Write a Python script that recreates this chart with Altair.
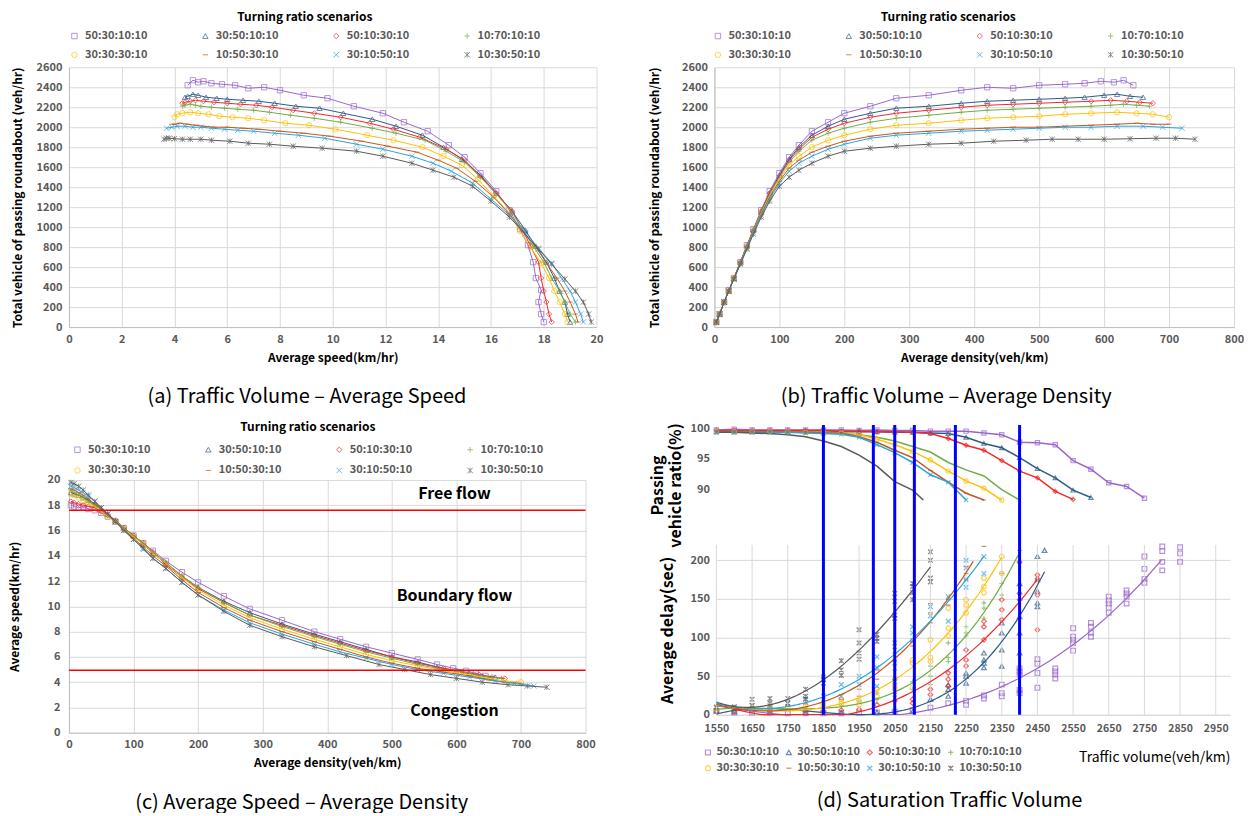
import altair as alt
import pandas as pd

FONT = "Noto Sans CJK KR"

SCEN = ["50:30:10:10", "30:50:10:10", "50:10:30:10", "10:70:10:10",
        "30:30:30:10", "10:50:30:10", "30:10:50:10", "10:30:50:10"]
COLORS = ["#9966CC", "#2E5A88", "#F02828", "#70AD47",
          "#FFC000", "#C8561A", "#2AA3DE", "#595959"]
SHAPES = ["square", "triangle-up", "diamond", "M-1,0L1,0M0,-1L0,1",
          "circle", "M-1,0L1,0", "M-1,-1L1,1M-1,1L1,-1",
          "M-1,-1L1,1M-1,1L1,-1M0,-1L0,1"]

# ---------- panels (a)(b)(c): density, speed, volume per scenario ----------
k1 = [3, 8, 15, 22, 30, 40, 50, 60, 72, 85, 100, 115, 130, 150, 175, 200, 240, 280, 330, 380, 420, 460, 500, 540, 570, 595, 615, 630, 645]
v1 = [18.0, 17.9, 17.8, 17.9, 17.7, 17.6, 17.4, 17.1, 16.7, 16.2, 15.6, 15.0, 14.4, 13.6, 12.7, 11.9, 10.8, 9.8, 8.9, 8.0, 7.4, 6.8, 6.3, 5.8, 5.4, 5.1, 4.9, 4.7, 4.5]
q1 = [50, 130, 250, 370, 490, 650, 820, 980, 1170, 1360, 1540, 1700, 1820, 1960, 2050, 2140, 2210, 2290, 2320, 2370, 2400, 2390, 2420, 2430, 2440, 2460, 2450, 2470, 2420]

k2 = [3, 8, 15, 22, 30, 40, 50, 60, 72, 85, 100, 115, 130, 150, 175, 200, 240, 280, 330, 380, 420, 460, 500, 540, 570, 600, 620, 640, 660]
v2 = [19.0, 18.9, 18.8, 18.6, 18.4, 18.1, 17.7, 17.3, 16.8, 16.2, 15.6, 14.9, 14.2, 13.4, 12.4, 11.5, 10.4, 9.5, 8.6, 7.8, 7.2, 6.6, 6.0, 5.6, 5.2, 4.9, 4.7, 4.5, 4.4]
q2 = [50, 130, 250, 360, 490, 650, 810, 970, 1160, 1340, 1520, 1680, 1800, 1920, 2010, 2080, 2140, 2190, 2210, 2240, 2260, 2270, 2280, 2290, 2300, 2320, 2330, 2310, 2300]

k3 = [3, 8, 15, 22, 30, 40, 50, 60, 72, 85, 100, 115, 130, 150, 175, 200, 240, 280, 330, 380, 420, 460, 500, 540, 580, 610, 635, 655, 675]
v3 = [18.3, 18.2, 18.1, 18.0, 17.9, 17.8, 17.5, 17.2, 16.8, 16.2, 15.6, 15.0, 14.3, 13.3, 12.3, 11.4, 10.3, 9.3, 8.5, 7.7, 7.1, 6.5, 6.0, 5.5, 5.1, 4.8, 4.6, 4.4, 4.3]
q3 = [50, 130, 250, 360, 490, 650, 810, 970, 1160, 1340, 1510, 1670, 1780, 1900, 1980, 2040, 2100, 2140, 2170, 2200, 2220, 2230, 2240, 2250, 2260, 2270, 2260, 2250, 2240]

k4 = [3, 8, 15, 22, 30, 40, 50, 60, 72, 85, 100, 115, 130, 150, 175, 200, 240, 280, 330, 380, 420, 460, 500, 540, 580, 610, 630, 650, 670]
v4 = [19.2, 19.0, 18.8, 18.6, 18.3, 18.0, 17.6, 17.2, 16.8, 16.2, 15.6, 15.0, 14.3, 13.5, 12.4, 11.5, 10.3, 9.3, 8.4, 7.6, 7.0, 6.4, 5.9, 5.4, 5.0, 4.8, 4.6, 4.4, 4.3]
q4 = [50, 130, 250, 360, 490, 650, 810, 970, 1150, 1330, 1500, 1650, 1760, 1870, 1940, 1990, 2050, 2090, 2120, 2150, 2170, 2180, 2190, 2200, 2210, 2220, 2230, 2220, 2210]

k5 = [3, 8, 15, 22, 30, 40, 50, 60, 72, 85, 100, 115, 130, 150, 175, 200, 240, 280, 330, 380, 420, 460, 500, 540, 580, 620, 650, 675, 700]
v5 = [18.9, 18.8, 18.6, 18.4, 18.2, 17.9, 17.5, 17.1, 16.7, 16.1, 15.5, 14.9, 14.2, 13.4, 12.3, 11.3, 10.1, 9.1, 8.2, 7.4, 6.8, 6.2, 5.7, 5.3, 4.9, 4.6, 4.3, 4.1, 4.0]
q5 = [50, 130, 250, 360, 490, 640, 800, 960, 1140, 1310, 1480, 1620, 1710, 1800, 1870, 1920, 1980, 2020, 2040, 2070, 2090, 2100, 2110, 2130, 2140, 2150, 2140, 2130, 2100]

k6 = [3, 8, 15, 22, 30, 40, 50, 60, 72, 85, 100, 115, 130, 150, 175, 200, 240, 280, 330, 380, 420, 460, 500, 540, 580, 620, 650, 675, 700]
v6 = [19.3, 19.2, 19.0, 18.8, 18.5, 18.1, 17.7, 17.2, 16.7, 16.1, 15.4, 14.7, 14.0, 13.2, 12.1, 11.1, 9.9, 8.9, 8.0, 7.2, 6.6, 6.0, 5.5, 5.1, 4.8, 4.5, 4.2, 4.0, 3.9]
q6 = [50, 130, 250, 360, 490, 640, 800, 960, 1130, 1300, 1460, 1590, 1670, 1750, 1810, 1860, 1910, 1940, 1960, 1980, 1990, 2000, 2000, 2010, 2020, 2030, 2040, 2030, 2030]

k7 = [3, 8, 15, 22, 30, 40, 50, 60, 72, 85, 100, 115, 130, 150, 175, 200, 240, 280, 330, 380, 420, 460, 500, 540, 580, 620, 660, 690, 720]
v7 = [19.5, 19.4, 19.2, 19.0, 18.7, 18.3, 17.8, 17.3, 16.7, 16.0, 15.3, 14.5, 13.8, 13.0, 11.9, 10.9, 9.7, 8.7, 7.8, 7.0, 6.4, 5.9, 5.4, 5.0, 4.7, 4.4, 4.1, 3.9, 3.7]
q7 = [50, 130, 250, 360, 480, 640, 790, 950, 1120, 1280, 1440, 1560, 1640, 1710, 1780, 1830, 1890, 1920, 1940, 1960, 1970, 1980, 1990, 2000, 2000, 2010, 2010, 2000, 1990]

k8 = [3, 8, 15, 22, 30, 40, 50, 60, 72, 85, 100, 115, 130, 150, 175, 200, 240, 280, 330, 380, 430, 480, 520, 560, 600, 640, 680, 710, 740]
v8 = [19.8, 19.7, 19.5, 19.2, 18.8, 18.3, 17.8, 17.3, 16.7, 16.0, 15.3, 14.6, 13.8, 13.0, 11.9, 10.9, 9.6, 8.5, 7.6, 6.8, 6.1, 5.4, 5.0, 4.6, 4.3, 4.0, 3.8, 3.7, 3.6]
q8 = [50, 130, 250, 360, 480, 630, 780, 930, 1100, 1260, 1410, 1500, 1570, 1640, 1710, 1760, 1790, 1810, 1830, 1840, 1860, 1870, 1880, 1880, 1880, 1885, 1890, 1890, 1880]

# ---------- panel (d) ----------
VOL = [1550, 1600, 1650, 1700, 1750, 1800, 1850, 1900, 1950, 2000, 2050, 2100, 2150,
       2200, 2250, 2300, 2350, 2400, 2450, 2500, 2550, 2600, 2650, 2700, 2750, 2800, 2850]
XTICKS_D = [1550, 1650, 1750, 1850, 1950, 2050, 2150, 2250, 2350, 2450, 2550, 2650, 2750, 2850, 2950]
SAT_VOL = [1850, 1990, 2050, 2105, 2220, 2400]

r1 = [99.7, 99.8, 99.7, 99.7, 99.7, 99.7, 99.7, 99.7, 99.6, 99.7, 99.6, 99.6, 99.5, 99.5, 99.5, 99.2, 98.9, 97.7, 97.6, 97.3, 94.7, 93.3, 91.1, 90.5, 88.6]
r2 = [99.4, 99.4, 99.4, 99.4, 99.4, 99.4, 99.4, 99.4, 99.4, 99.4, 99.3, 99.3, 99.2, 99.1, 98.5, 97.5, 96.8, 95.2, 93.4, 91.9, 89.9, 88.7]
r3 = [99.6, 99.6, 99.6, 99.6, 99.6, 99.6, 99.6, 99.5, 99.5, 99.4, 99.4, 99.3, 99.1, 98.3, 97.2, 96.4, 94.7, 93.0, 91.9, 89.7, 88.4]
r4 = [99.4, 99.4, 99.4, 99.4, 99.4, 99.3, 99.3, 99.2, 98.9, 98.5, 97.9, 97.0, 96.1, 94.4, 93.2, 92.2, 90.0, 88.3]
r5 = [99.4, 99.4, 99.4, 99.4, 99.4, 99.3, 99.3, 99.2, 98.9, 98.2, 97.3, 96.2, 94.8, 93.0, 91.4, 90.2, 88.3]
r6 = [99.5, 99.5, 99.4, 99.4, 99.4, 99.3, 99.2, 99.2, 98.6, 97.7, 96.4, 95.2, 93.1, 91.2, 89.4, 88.3]
r7 = [99.3, 99.3, 99.3, 99.3, 99.3, 99.2, 99.1, 99.0, 98.5, 97.3, 96.0, 94.4, 92.4, 91.2, 88.3]
gray_top_vol = [1550, 1600, 1650, 1700, 1750, 1800, 1850, 1900, 1950, 2000, 2050, 2100, 2130]
r8 = [99.3, 99.3, 99.2, 99.1, 98.9, 98.6, 97.9, 97.0, 95.6, 93.8, 91.3, 89.9, 88.3]
MARKED = ["50:30:10:10", "30:50:10:10", "50:10:30:10", "30:30:30:10", "10:50:30:10", "30:10:50:10"]

dv1 = [1550, 1600, 1650, 1700, 1750, 1800, 1850, 1900, 1950, 2000, 2050, 2100, 2150, 2200, 2250, 2250, 2300, 2300, 2350, 2350, 2350,
       2400, 2400, 2400, 2400, 2400, 2450, 2450, 2450, 2450, 2500, 2500, 2500, 2500, 2550, 2550, 2550, 2550, 2550,
       2600, 2600, 2600, 2600, 2650, 2650, 2650, 2650, 2650, 2700, 2700, 2700, 2700, 2750, 2750, 2750, 2750,
       2800, 2800, 2800, 2800, 2850, 2850, 2850]
dd1 = [5, 3, 3, 3, 2, 2, 2, 2, 3, 3, 4, 6, 9, 15, 18, 13, 25, 21, 39, 28, 24,
       60, 56, 52, 32, 28, 72, 66, 54, 35, 60, 56, 52, 47, 112, 101, 97, 93, 83,
       119, 114, 106, 101, 153, 148, 144, 139, 132, 161, 157, 153, 144, 205, 189, 176, 171,
       218, 212, 198, 187, 217, 209, 198]
dv2 = [1550, 1600, 1700, 1800, 1900, 2000, 2100, 2150, 2200, 2200, 2200, 2250, 2250, 2250, 2300, 2300, 2300, 2300,
       2350, 2350, 2350, 2350, 2400, 2400, 2400, 2400, 2450, 2450, 2450, 2450, 2450, 2470]
dd2 = [5, 4, 3, 3, 3, 3, 4, 20, 24, 33, 39, 41, 50, 54, 67, 71, 80, 61,
       84, 106, 119, 63, 127, 170, 106, 80, 140, 145, 160, 175, 205, 213]
dv3 = [1550, 1600, 1650, 1700, 1800, 1850, 1900, 1950, 2000, 2050, 2100, 2100, 2150, 2150, 2200, 2200, 2200,
       2250, 2250, 2250, 2300, 2300, 2300, 2350, 2350, 2350, 2400, 2400, 2400, 2450, 2450, 2450, 2450]
dd3 = [5, 5, 5, 5, 5, 5, 6, 7, 13, 18, 20, 15, 26, 33, 46, 37, 54,
       71, 63, 84, 97, 114, 121, 136, 123, 149, 149, 157, 198, 181, 176, 155, 110]
dv4 = [1550, 1600, 1700, 1800, 1850, 1900, 1950, 2000, 2000, 2050, 2050, 2100, 2100, 2150, 2150, 2150,
       2200, 2200, 2200, 2250, 2250, 2250, 2300, 2300, 2300, 2350, 2350, 2350, 2400, 2400]
dd4 = [7, 7, 8, 9, 10, 12, 18, 28, 20, 28, 24, 33, 43, 39, 50, 63,
       69, 74, 93, 106, 102, 114, 125, 138, 145, 155, 170, 183, 213, 196]
dv5 = [1550, 1600, 1650, 1700, 1750, 1800, 1850, 1850, 1900, 1900, 1950, 1950, 2000, 2000, 2050, 2050, 2050,
       2100, 2100, 2100, 2150, 2150, 2150, 2200, 2200, 2200, 2250, 2250, 2250, 2300, 2300, 2300, 2350, 2350]
dd5 = [7, 8, 9, 10, 10, 12, 11, 15, 15, 20, 18, 13, 24, 33, 37, 46, 33,
       35, 67, 71, 69, 74, 97, 102, 112, 138, 142, 132, 149, 158, 166, 177, 205, 183]
dv6 = [1550, 1600, 1650, 1700, 1750, 1800, 1850, 1900, 1950, 1950, 2000, 2000, 2050, 2050, 2050, 2050,
       2100, 2100, 2150, 2150, 2150, 2200, 2200, 2250, 2250, 2250, 2300]
dd6 = [8, 8, 10, 10, 12, 14, 18, 20, 33, 24, 58, 46, 86, 80, 71, 58,
       89, 95, 144, 132, 119, 142, 149, 175, 183, 192, 218]
dv7 = [1550, 1600, 1650, 1700, 1750, 1800, 1850, 1900, 1900, 1950, 1950, 2000, 2000, 2000, 2050, 2050, 2050,
       2100, 2100, 2100, 2150, 2150, 2200, 2200, 2250, 2250, 2250, 2250, 2300, 2300]
dd7 = [9, 10, 12, 12, 15, 21, 24, 39, 24, 50, 39, 75, 61, 37, 93, 67, 43,
       114, 106, 96, 140, 128, 153, 121, 200, 190, 175, 165, 205, 183]
dv8 = [1550, 1600, 1650, 1650, 1700, 1700, 1750, 1750, 1800, 1800, 1800, 1850, 1850, 1850, 1900, 1900, 1900,
       1950, 1950, 1950, 1950, 2000, 2000, 2000, 2050, 2050, 2050, 2050, 2100, 2100, 2100, 2100, 2150, 2150, 2150, 2150]
dd8 = [10, 10, 20, 12, 21, 15, 21, 15, 33, 24, 20, 46, 41, 49, 70, 58, 51,
       110, 93, 80, 72, 104, 99, 95, 157, 147, 129, 125, 170, 166, 158, 149, 211, 200, 177, 172]

# ---------- tables ----------
abc_rows = []
for s, ks, vs, qs in zip(SCEN, [k1, k2, k3, k4, k5, k6, k7, k8],
                         [v1, v2, v3, v4, v5, v6, v7, v8],
                         [q1, q2, q3, q4, q5, q6, q7, q8]):
    for k, v, q in zip(ks, vs, qs):
        abc_rows.append({"scenario": s, "density": k, "speed": v, "volume": q})
df_abc = pd.DataFrame(abc_rows)

top_rows = []
for s, rs in zip(SCEN[:7], [r1, r2, r3, r4, r5, r6, r7]):
    for x, r in zip(VOL, rs):
        top_rows.append({"scenario": s, "volume": x, "ratio": r})
for x, r in zip(gray_top_vol, r8):
    top_rows.append({"scenario": SCEN[7], "volume": x, "ratio": r})
df_top = pd.DataFrame(top_rows)
df_top_pts = df_top[df_top["scenario"].isin(MARKED)]

bot_rows = []
for s, xs, ds in zip(SCEN, [dv1, dv2, dv3, dv4, dv5, dv6, dv7, dv8],
                     [dd1, dd2, dd3, dd4, dd5, dd6, dd7, dd8]):
    for x, d in zip(xs, ds):
        bot_rows.append({"scenario": s, "volume": x, "delay": d})
df_bot = pd.DataFrame(bot_rows)

color_scale = alt.Scale(domain=SCEN, range=COLORS)
shape_scale = alt.Scale(domain=SCEN, range=SHAPES)

LABEL_GRAY = "#595959"


def top_legend(lx, ly, tpad, rpad):
    return alt.Legend(title="Turning ratio scenarios", orient="none", legendX=lx, legendY=ly,
                      direction="horizontal", columns=4, columnPadding=52, rowPadding=rpad,
                      symbolSize=30, symbolStrokeWidth=1, labelOffset=5, labelFont=FONT,
                      labelFontSize=11, labelFontWeight="bold", labelColor=LABEL_GRAY,
                      labelLimit=200, titleFont=FONT, titleFontSize=12, titleFontWeight="bold",
                      titleColor="#000000", titleAnchor="middle", titlePadding=tpad,
                      titleOrient="top")


def caption_title(text, offset, dx=0):
    return alt.TitleParams(text, orient="bottom", anchor="middle", frame="bounds", font=FONT,
                           fontSize=20, fontWeight="normal", color="#000000",
                           offset=offset, dx=dx)


def abc_panel(xf, yf, xdom, xvals, ydom, yvals, xtitle, ytitle, caption, w, h,
              lx, ly, ytp, ylp, ltp=6, lrp=7, extra=None):
    X = alt.X(f"{xf}:Q", scale=alt.Scale(domain=xdom, nice=False, zero=False),
              axis=alt.Axis(values=xvals, title=xtitle, titlePadding=8, labelPadding=6, format="d"))
    Y = alt.Y(f"{yf}:Q", scale=alt.Scale(domain=ydom, nice=False, zero=False),
              axis=alt.Axis(values=yvals, title=ytitle, titlePadding=ytp, labelPadding=ylp, format="d"))
    leg = top_legend(lx, ly, ltp, lrp)
    pts = alt.Chart(df_abc).mark_point(filled=False, size=28, strokeWidth=1).encode(
        x=X, y=Y,
        color=alt.Color("scenario:N", scale=color_scale, legend=leg),
        shape=alt.Shape("scenario:N", scale=shape_scale, legend=leg))
    fit = alt.Chart(df_abc).mark_line(strokeWidth=1, clip=True).encode(
        x=X, y=Y, order=alt.Order("density:Q"),
        color=alt.Color("scenario:N", scale=color_scale, legend=None))
    layers = [pts, fit]
    if extra is not None:
        layers += extra(X, Y)
    return alt.layer(*layers).properties(width=w, height=h, title=caption_title(caption, 24))


panel_a = abc_panel("speed", "volume", [0, 20], list(range(0, 21, 2)), [0, 2600],
                    list(range(0, 2601, 200)), "Average speed(km/hr)",
                    "Total vehicle of passing roundabout (veh/hr)",
                    "(a) Traffic Volume \u2013 Average Speed", 528, 260, 0, -55, 12, 7)

panel_b = abc_panel("density", "volume", [0, 800], list(range(0, 801, 100)), [0, 2600],
                    list(range(0, 2601, 200)), "Average density(veh/km)",
                    "Total vehicle of passing roundabout (veh/hr)",
                    "(b) Traffic Volume \u2013 Average Density", 520, 260, -2, -55, 20, 7)

ZONE_SPEED = [17.6, 4.95]
zone_label = ["Free flow", "Boundary flow", "Congestion"]
zone_x = [597, 597, 597]
zone_y = [18.9, 10.8, 1.7]


def zones(X, Y):
    rules = alt.Chart(pd.DataFrame({"speed": ZONE_SPEED})).mark_rule(
        color="#FF0000", strokeWidth=1.5).encode(y=Y)
    txt = alt.Chart(pd.DataFrame({"density": zone_x, "speed": zone_y, "label": zone_label})).mark_text(
        font=FONT, fontSize=16, fontWeight="bold", color="#000000").encode(x=X, y=Y, text="label:N")
    return [rules, txt]


panel_c = abc_panel("density", "speed", [0, 800], list(range(0, 801, 100)), [0, 20],
                    list(range(0, 21, 2)), "Average density(veh/km)", "Average speed(km/hr)",
                    "(c) Average Speed \u2013 Average Density", 517, 253, 3, -58, 26, 9,
                    ltp=10, lrp=9, extra=zones)

# ---------- panel (d) ----------
XD = alt.X("volume:Q", scale=alt.Scale(domain=[1550, 2990], nice=False, zero=False),
           axis=alt.Axis(values=XTICKS_D, grid=False, title="Traffic volume(veh/km)", format="d",
                         labelOverlap=False, labelFontSize=10.5, titleAnchor="end", titleY=36,
                         titleFont=FONT, titleFontSize=14, titleFontWeight="normal",
                         labelPadding=9, domainColor="#D9D9D9"))
top_scale = dict(domain=[81, 100.5], range=[120, 0], nice=False, zero=False)
bot_scale = dict(domain=[0, 220], range=[290, 120], nice=False, zero=False)

Y_top = alt.Y("ratio:Q", scale=alt.Scale(**top_scale),
              axis=alt.Axis(orient="left", values=[90, 95, 100], domain=False,
                            title=["Passing", "vehicle ratio(%)"], titleFontSize=16,
                            titlePadding=7, labelPadding=7))
Y_top_na = alt.Y("ratio:Q", scale=alt.Scale(**top_scale), axis=None)
Y_bot = alt.Y("delay:Q", scale=alt.Scale(**bot_scale),
              axis=alt.Axis(orient="left", values=[0, 50, 100, 150, 200], domain=False,
                            title="Average delay(sec)", titleFontSize=16,
                            titlePadding=14, labelPadding=7))
Y_bot_na = alt.Y("delay:Q", scale=alt.Scale(**bot_scale), axis=None)

leg_d = alt.Legend(title=None, orient="none", legendX=-14, legendY=322, direction="horizontal",
                   columns=4, columnPadding=4, rowPadding=4, symbolSize=25, symbolStrokeWidth=1.2,
                   labelOffset=3, labelFont=FONT, labelFontSize=11, labelFontWeight="bold",
                   labelColor=LABEL_GRAY)

d_pts = alt.Chart(df_bot).mark_point(filled=False, size=22, strokeWidth=1.2).encode(
    x=XD, y=Y_bot, color=alt.Color("scenario:N", scale=color_scale, legend=leg_d),
    shape=alt.Shape("scenario:N", scale=shape_scale, legend=leg_d))
d_grid = alt.Chart(pd.DataFrame({"volume": XTICKS_D})).mark_rule(
    color="#D9D9D9", strokeWidth=1).encode(
    x=XD, y=alt.Y(datum=0, type="quantitative", scale=alt.Scale(**bot_scale), axis=None),
    y2=alt.Y2(datum=220))
d_top_line = alt.Chart(df_top).mark_line(strokeWidth=1.5).encode(
    x=XD, y=Y_top, color=alt.Color("scenario:N", scale=color_scale, legend=None))
d_top_pts = alt.Chart(df_top_pts).mark_point(filled=False, size=18, strokeWidth=1.2).encode(
    x=XD, y=Y_top_na, color=alt.Color("scenario:N", scale=color_scale, legend=None),
    shape=alt.Shape("scenario:N", scale=shape_scale, legend=None))
d_fit = alt.Chart(df_bot).transform_regression(
    "volume", "delay", groupby=["scenario"], method="poly", order=3).transform_filter(
    "datum.delay <= 220 && datum.delay >= 0").mark_line(strokeWidth=1.2).encode(
    x=XD, y=Y_bot_na, color=alt.Color("scenario:N", scale=color_scale, legend=None))
d_blue = alt.Chart(pd.DataFrame({"volume": SAT_VOL})).mark_rule(
    color="#0000FF", strokeWidth=3).encode(x=XD)

panel_d = alt.layer(d_pts, d_grid, d_top_line, d_top_pts, d_fit, d_blue).resolve_scale(
    y="independent").properties(
    width=514, height=290,
    title=caption_title("(d) Saturation Traffic Volume", 17, 10))

chart = alt.concat(panel_a, panel_b, panel_c, panel_d, columns=2, align="none",
                   spacing={"row": 15, "column": 45}).resolve_scale(
    color="independent", shape="independent").resolve_legend(
    color="independent", shape="independent").properties(
    padding={"left": 0, "top": 4, "right": 0, "bottom": 0}
).configure_view(stroke=None).configure_axis(
    labelFont=FONT, labelFontWeight="bold", labelColor=LABEL_GRAY, labelFontSize=11,
    labelFlush=False,
    titleFont=FONT, titleFontWeight="bold", titleColor="#000000", titleFontSize=12,
    gridColor="#D9D9D9", domainColor="#BFBFBF", ticks=False)

chart.save("out.html", embed_options={"renderer": "svg", "actions": False})
